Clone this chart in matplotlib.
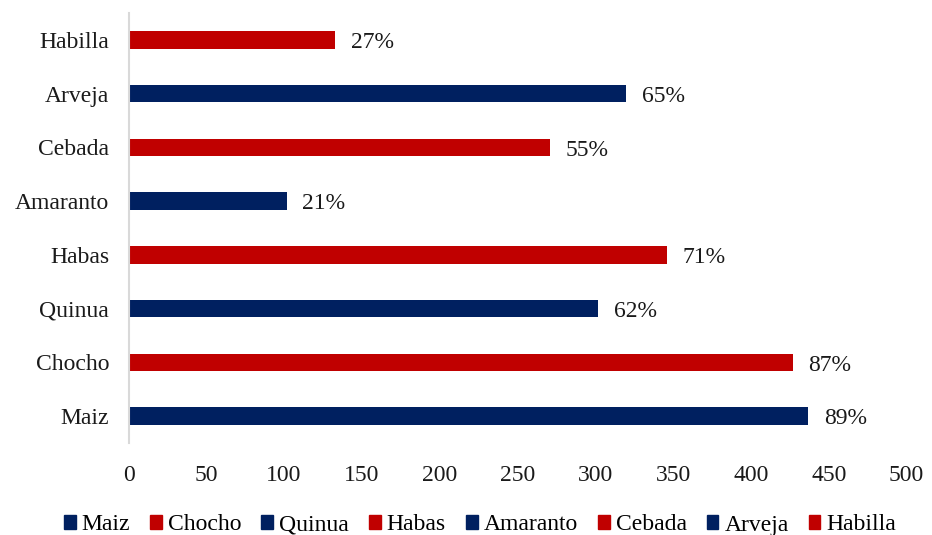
import matplotlib
matplotlib.use('Agg')
import matplotlib.pyplot as plt
from matplotlib.patches import Patch

# data, bottom to top
cultivos = ['Maiz', 'Chocho', 'Quinua', 'Habas', 'Amaranto', 'Cebada', 'Arveja', 'Habilla']
valores = [437, 427, 302, 346, 102, 271, 320, 133]
porcentajes = ['89%', '87%', '62%', '71%', '21%', '55%', '65%', '27%']
colores = ['#002060', '#C00000', '#002060', '#C00000', '#002060', '#C00000', '#002060', '#C00000']
x_ticks = [0, 50, 100, 150, 200, 250, 300, 350, 400, 450, 500]

plt.rcParams['font.family'] = ['Liberation Serif', 'DejaVu Serif']
plt.rcParams['font.size'] = 17

fig = plt.figure(figsize=(9.32, 5.35), dpi=100)
ax = fig.add_axes([128.5/932, 92/535, 778/932, 430/535])

for i, (c, v, p, col) in enumerate(zip(cultivos, valores, porcentajes, colores)):
    ax.barh(i, v, height=0.33, color=col, label=c)
    ax.annotate(p, (v, i), xytext=(11, -2), textcoords='offset points',
                va='center', ha='left', color='#1a1a1a')

ax.set_xlim(0, 500)
ax.set_ylim(-0.5, len(cultivos) - 0.5)
ax.set_yticks(range(len(cultivos)))
ax.set_yticklabels(cultivos, color='#1a1a1a')
ax.set_xticks(x_ticks)
ax.set_xticklabels([str(t) for t in x_ticks], color='#1a1a1a')
ax.tick_params(axis='y', length=0, pad=14)
ax.tick_params(axis='x', length=0, pad=15.5)
for s in ['top', 'right', 'bottom']:
    ax.spines[s].set_visible(False)
ax.spines['left'].set_color('#D9D9D9')
ax.spines['left'].set_linewidth(1.5)

handles = [Patch(color=col) for col in colores]
fig.legend(handles, cultivos, loc='center', bbox_to_anchor=(480/932, 1 - 525/535),
           ncol=8, frameon=False, handlelength=0.5, handleheight=0.5,
           handletextpad=0.25, columnspacing=0.85, borderaxespad=0)

fig.savefig('out.png', dpi=100)
